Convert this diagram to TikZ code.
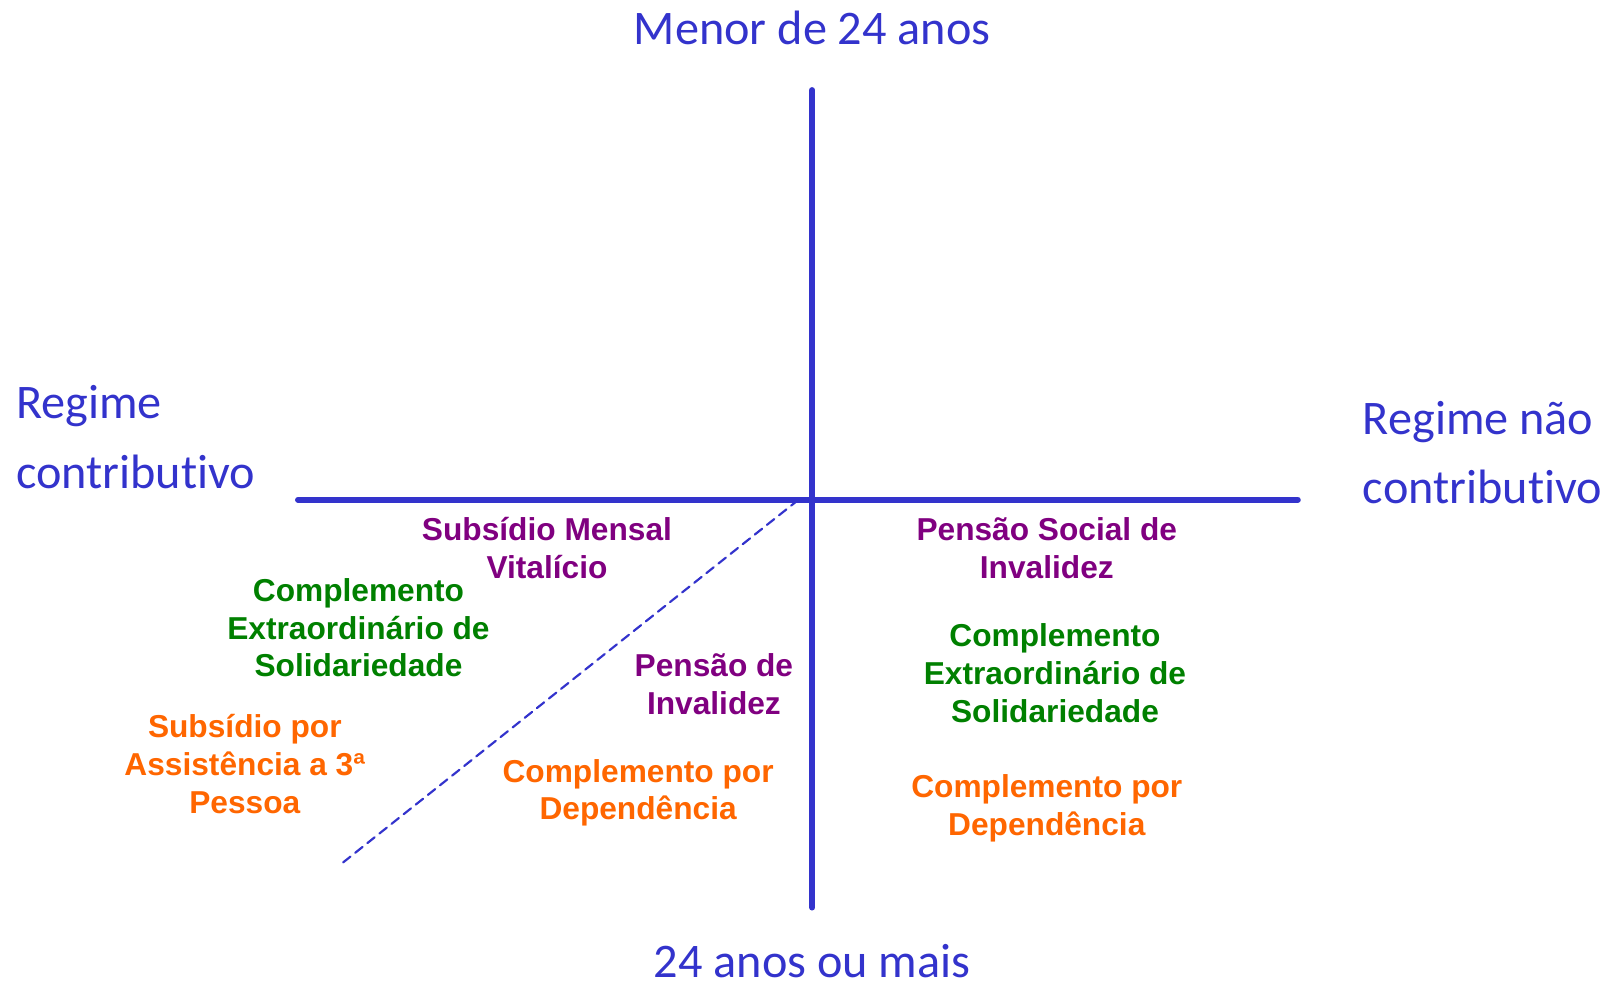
\documentclass[tikz,border=0pt]{standalone}
\usepackage{fontspec}
\usepackage{tikz}
\usepackage{tkz-euclide}
\usepackage{xcolor}
\setmainfont{Carlito}[Ligatures=NoCommon]
\newfontfamily\itemfont{Liberation Sans}
\definecolor{axisblue}{RGB}{51,51,204}
\definecolor{itempurple}{RGB}{128,0,128}
\definecolor{itemgreen}{RGB}{0,128,0}
\definecolor{itemorange}{RGB}{255,102,0}

\tikzset{
  axislabel/.style={text=axisblue,font=\fontsize{13.4}{19.35}\selectfont,inner sep=0pt},
  benefit/.style={font=\itemfont\bfseries\fontsize{8.8}{10.5}\selectfont,align=center,inner sep=0pt},
}

\begin{document}
\begin{tikzpicture}
    \tkzDefPoints{7.93/8.96/T,7.93/0.98/B,2.91/4.96/L,12.67/4.96/R}
    \tkzDefPoints{3.35/1.42/P,7.77/4.94/Q}
    \tkzDrawSegments[axisblue,line width=1.7pt](T,B L,R)
    \tkzDrawSegments[axisblue,line width=0.6pt,dash pattern=on 2.6pt off 1.7pt](P,Q)
    % axis labels
    \node[axislabel] (young) at (7.93,9.57) {Menor de 24 anos};
    \node[axislabel] (old) at (7.93,0.46) {24 anos ou mais};
    \node[axislabel,anchor=west,align=left] (contrib) at (0.15,5.57) {Regime\\contributivo};
    \node[axislabel,anchor=west,align=left] (noncontrib) at (13.30,5.42) {Regime não\\contributivo};
    % contributive regime
    \node[benefit,text=itempurple] (smv) at (5.34,4.49) {Subsídio Mensal\\Vitalício};
    \node[benefit,text=itemgreen] (cesl) at (3.50,3.71) {Complemento\\Extraordinário de\\Solidariedade};
    \node[benefit,text=itemorange] (sap) at (2.39,2.38) {Subsídio por\\Assistência a 3ª\\Pessoa};
    \node[benefit,text=itempurple] (pinv) at (6.97,3.16) {Pensão de\\Invalidez};
    \node[benefit,text=itemorange] (cdl) at (6.23,2.10) {Complemento por\\Dependência};
    % non contributive regime
    \node[benefit,text=itempurple] (psi) at (10.22,4.49) {Pensão Social de\\Invalidez};
    \node[benefit,text=itemgreen] (cesr) at (10.30,3.27) {Complemento\\Extraordinário de\\Solidariedade};
    \node[benefit,text=itemorange] (cdr) at (10.22,1.95) {Complemento por\\Dependência};
    \pgfresetboundingbox
    \useasboundingbox (0,0.23) rectangle (15.67,9.84);
\end{tikzpicture}
\end{document}
